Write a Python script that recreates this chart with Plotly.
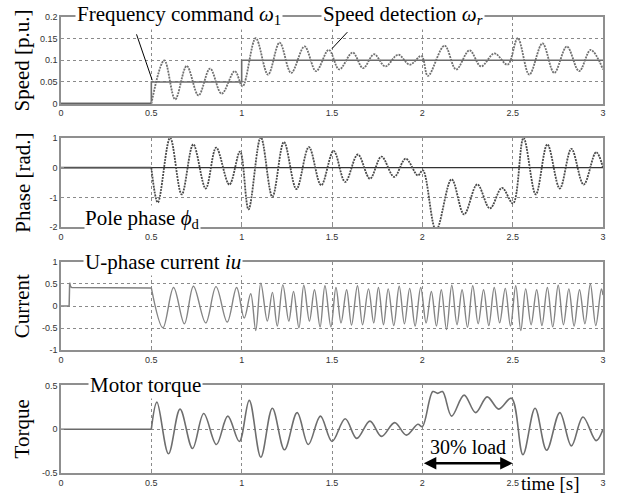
import plotly.graph_objects as go

# ---------------- data ----------------
time_ticks = [0, 0.5, 1, 1.5, 2, 2.5, 3]
time_tick_text = ["0", "0.5", "1", "1.5", "2", "2.5", "3"]

# Speed panel
cmd_t = [0, 0.5, 0.5, 1.0, 1.0, 3.0]
cmd_v = [0, 0, 0.05, 0.05, 0.1, 0.1]

spd_pre_t = [0, 0.5]
spd_pre_v = [0, 0]
spd_t = [0.5, 0.572, 0.632, 0.696, 0.761, 0.825, 0.889, 0.962, 1.005, 1.078,
         1.146, 1.210, 1.274, 1.348, 1.412, 1.482, 1.540, 1.614, 1.672, 1.733,
         1.795, 1.866, 1.930, 1.995, 2.031, 2.123, 2.187, 2.261, 2.325, 2.399,
         2.472, 2.528, 2.592, 2.665, 2.730, 2.800, 2.868, 2.932, 3.0]
spd_v = [0, 0.100, 0.010, 0.087, 0.019, 0.081, 0.023, 0.075, 0.040, 0.151,
         0.067, 0.141, 0.071, 0.132, 0.075, 0.124, 0.079, 0.118, 0.082, 0.114,
         0.086, 0.113, 0.090, 0.110, 0.064, 0.134, 0.079, 0.123, 0.086, 0.116,
         0.090, 0.151, 0.067, 0.139, 0.071, 0.132, 0.075, 0.124, 0.079]

# Phase panel
ph_ref_t = [0, 3]
ph_ref_v = [0, 0]
ph_pre_t = [0, 0.5]
ph_pre_v = [0, 0]
ph_t = [0.5, 0.536, 0.604, 0.668, 0.732, 0.801, 0.859, 0.932, 0.991, 1.038,
        1.106, 1.170, 1.234, 1.303, 1.372, 1.440, 1.509, 1.573, 1.643, 1.710,
        1.774, 1.844, 1.908, 1.975, 2.003, 2.076, 2.162, 2.231, 2.304, 2.374,
        2.441, 2.502, 2.560, 2.628, 2.692, 2.761, 2.825, 2.893, 2.962, 3.0]
ph_v = [0, -1.17, 1.0, -0.9, 0.78, -0.7, 0.67, -0.57, 0.54, -1.4,
        1.02, -0.98, 0.86, -0.72, 0.69, -0.59, 0.56, -0.48, 0.44, -0.37,
        0.37, -0.31, 0.30, -0.26, -0.09, -2.1, -0.39, -1.57, -0.56, -1.37,
        -0.68, -1.2, 1.0, -0.9, 0.78, -0.7, 0.63, -0.57, 0.52, 0.0]

# Current panel
cur_pre_t = [0, 0.045, 0.048, 0.053, 0.06, 0.5]
cur_pre_v = [0, 0, 0.53, 0.44, 0.42, 0.41]
cur_t = [0.5, 0.564, 0.623, 0.683, 0.733, 0.801, 0.858, 0.920, 0.972, 1.014,
         1.050, 1.078, 1.106, 1.142, 1.170, 1.197, 1.228, 1.261, 1.287, 1.317,
         1.344, 1.375, 1.403, 1.434, 1.461, 1.494, 1.522, 1.550, 1.581, 1.608,
         1.641, 1.669, 1.702, 1.731,
         1.757, 1.785, 1.811, 1.842, 1.872, 1.901, 1.930, 1.960, 1.991, 2.021,
         2.050, 2.078, 2.105, 2.134, 2.163, 2.192, 2.220, 2.250, 2.279, 2.309,
         2.339, 2.368, 2.398, 2.428, 2.459, 2.488, 2.517, 2.545, 2.572, 2.602,
         2.633, 2.662, 2.692, 2.722, 2.752, 2.781, 2.811, 2.840, 2.870, 2.900,
         2.930, 2.960, 2.991, 3.0]
cur_v = [0.41, -0.49, 0.42, -0.40, 0.45, -0.38, 0.44, -0.36, 0.42, -0.27,
         0.28, -0.55, 0.52, -0.34, 0.31, -0.45, 0.48, -0.34, 0.33, -0.49,
         0.47, -0.34, 0.37, -0.47, 0.46, -0.47, 0.42, -0.38, 0.37, -0.43,
         0.46, -0.42, 0.39, -0.38,
         0.42, -0.42, 0.39, -0.44, 0.45, -0.40, 0.40, -0.45, 0.42, -0.38,
         0.33, -0.45, 0.37, -0.53, 0.47, -0.42, 0.37, -0.48, 0.46, -0.40,
         0.37, -0.44, 0.42, -0.38, 0.40, -0.45, 0.46, -0.55, 0.39, -0.42,
         0.37, -0.44, 0.42, -0.47, 0.47, -0.42, 0.39, -0.45, 0.37, -0.40,
         0.50, -0.44, 0.39, 0.25]

# Torque panel
tq_pre_t = [0, 0.5]
tq_pre_v = [0, 0]
tq_t = [0.5, 0.531, 0.595, 0.659, 0.728, 0.790, 0.860, 0.923, 0.987, 1.042,
        1.106, 1.170, 1.237, 1.307, 1.369, 1.436, 1.500, 1.573, 1.637, 1.710,
        1.774, 1.847, 1.911, 1.975, 2.000, 2.058, 2.085, 2.112, 2.162, 2.231,
        2.295, 2.359, 2.423, 2.493, 2.557, 2.624, 2.688, 2.761, 2.825, 2.889,
        2.962, 3.0]
tq_v = [0, 0.31, -0.28, 0.23, -0.22, 0.18, -0.175, 0.15, -0.14, 0.33,
        -0.32, 0.24, -0.235, 0.19, -0.175, 0.15, -0.14, 0.12, -0.105, 0.093,
        -0.082, 0.075, -0.067, 0.056, 0.03, 0.43, 0.41, 0.43, 0.15, 0.39,
        0.19, 0.37, 0.23, 0.355, -0.29, 0.24, -0.24, 0.19, -0.19, 0.14,
        -0.13, 0.0]

assert len(spd_t) == len(spd_v)
assert len(ph_t) == len(ph_v)
assert len(cur_t) == len(cur_v)
assert len(tq_t) == len(tq_v)

# ---------------- figure ----------------
SERIF = "Liberation Serif"
SANS = "Liberation Sans"
FRAME = "#8f8f8f"
GRID = "#8a8a8a"

fig = go.Figure()


def add(x, y, axis, color, width=1.5, dash="solid", shape="linear"):
    fig.add_trace(go.Scatter(
        x=x, y=y, mode="lines", xaxis="x" + axis, yaxis="y" + axis,
        line=dict(color=color, width=width, dash=dash, shape=shape, smoothing=1.0),
        showlegend=False, hoverinfo="skip"))


# speed
add(cmd_t, cmd_v, "", "#6c6c6c", 1.6)
add(spd_pre_t, spd_pre_v, "", "#555555", 1.8)
add(spd_t, spd_v, "", "#707070", 1.8, "2px,1px", "spline")
# phase
add(ph_ref_t, ph_ref_v, "2", "#333333", 1.3)
add(ph_pre_t, ph_pre_v, "2", "#555555", 1.6)
add(ph_t, ph_v, "2", "#4a4a4a", 1.8, "2px,1px", "spline")
# current
add(cur_pre_t, cur_pre_v, "3", "#808080", 1.5)
add(cur_t, cur_v, "3", "#848484", 1.4, "solid", "spline")
# torque
add(tq_pre_t, tq_pre_v, "4", "#6a6a6a", 1.5)
add(tq_t, tq_v, "4", "#6e6e6e", 1.6, "solid", "spline")

domains = [[0.810, 1.0], [0.539, 0.735], [0.269, 0.463], [0.0, 0.192]]
yranges = [[0, 0.2], [-2, 1], [-1, 1], [-0.5, 0.5]]
yticks = [[0, 0.05, 0.1, 0.15, 0.2], [-2, -1, 0, 1], [-1, -0.5, 0, 0.5, 1], [-0.5, 0, 0.5]]
yticktext = [["0", "0.05", "0.1", "0.15", "0.2"], ["-2", "-1", "0", "1"],
             ["-1", "-0.5", "0", "0.5", "1"], ["-0.5", "0", "0.5"]]

axcommon = dict(showline=True, mirror=True, linecolor=FRAME, linewidth=1.5,
                showgrid=True, gridcolor=GRID, griddash="dot", gridwidth=1,
                ticks="inside", ticklen=3, tickcolor=FRAME, zeroline=False,
                tickfont=dict(family=SANS, size=9, color="#333333"))

layout = dict(width=618, height=500, margin=dict(l=61, r=12, t=14, b=22),
              paper_bgcolor="white", plot_bgcolor="white")
for i in range(4):
    s = "" if i == 0 else str(i + 1)
    layout["xaxis" + s] = dict(axcommon, domain=[0, 1], range=[0, 3],
                               tickvals=time_ticks, ticktext=time_tick_text,
                               anchor="y" + s)
    layout["yaxis" + s] = dict(axcommon, domain=domains[i], range=yranges[i],
                               tickvals=yticks[i], ticktext=yticktext[i],
                               anchor="x" + s)
fig.update_layout(**layout)

ann = []


def label(text, xpx, y, yref="paper", size=21, bg="white", anchor="left",
          yshift=0, pad=1, yanchor="middle"):
    ann.append(dict(text=text, x=(xpx - 61) / 545, xref="paper", y=y, yref=yref,
                    xanchor=anchor, yanchor=yanchor, showarrow=False,
                    bgcolor=bg, borderpad=pad, yshift=yshift,
                    font=dict(family=SERIF, size=size, color="black")))


label("Frequency command <i>ω</i><sub>1</sub>", 75, 1.0, yshift=2)
label("Speed detection <i>ω<sub>r</sub></i>", 322, 1.0, yshift=2)
label("Pole phase <i>ϕ</i><sub>d</sub>", 84, 0.557, pad=0)
label("U-phase current <i>iu</i>", 83, 0.463)
label("Motor torque", 88, 0.192)
label("time [s]", 553, -22 / 464, size=19, bg="rgba(0,0,0,0)", anchor="center",
      pad=0, yanchor="bottom")

# y-axis titles
for txt, d in zip(["Speed [p.u.]", "Phase [rad.]", "Current", "Torque"], domains):
    ann.append(dict(text=txt, x=(22 - 61) / 545, xref="paper", y=(d[0] + d[1]) / 2,
                    yref="paper", textangle=-90, showarrow=False,
                    xanchor="center", yanchor="middle",
                    font=dict(family=SERIF, size=21, color="black")))

# 30% load
ann.append(dict(text="30% load", x=2.255, y=-0.2, xref="x4", yref="y4",
                showarrow=False, font=dict(family=SERIF, size=20, color="black")))
ann.append(dict(text="", x=2.5, y=-0.39, xref="x4", yref="y4", ax=2.0, ay=-0.39,
                axref="x4", ayref="y4", showarrow=True, arrowhead=2,
                arrowside="end+start", arrowsize=1, arrowwidth=2.5,
                arrowcolor="black", standoff=0, startstandoff=0))

# pointer lines from labels to traces
shapes = [
    dict(type="line", xref="x", yref="y", x0=0.418, y0=0.160, x1=0.505, y1=0.054,
         line=dict(color="black", width=1)),
    dict(type="line", xref="x", yref="y", x0=1.585, y0=0.165, x1=1.50, y1=0.127,
         line=dict(color="black", width=1)),
]

fig.update_layout(annotations=ann, shapes=shapes)
fig.write_html("out.html")
